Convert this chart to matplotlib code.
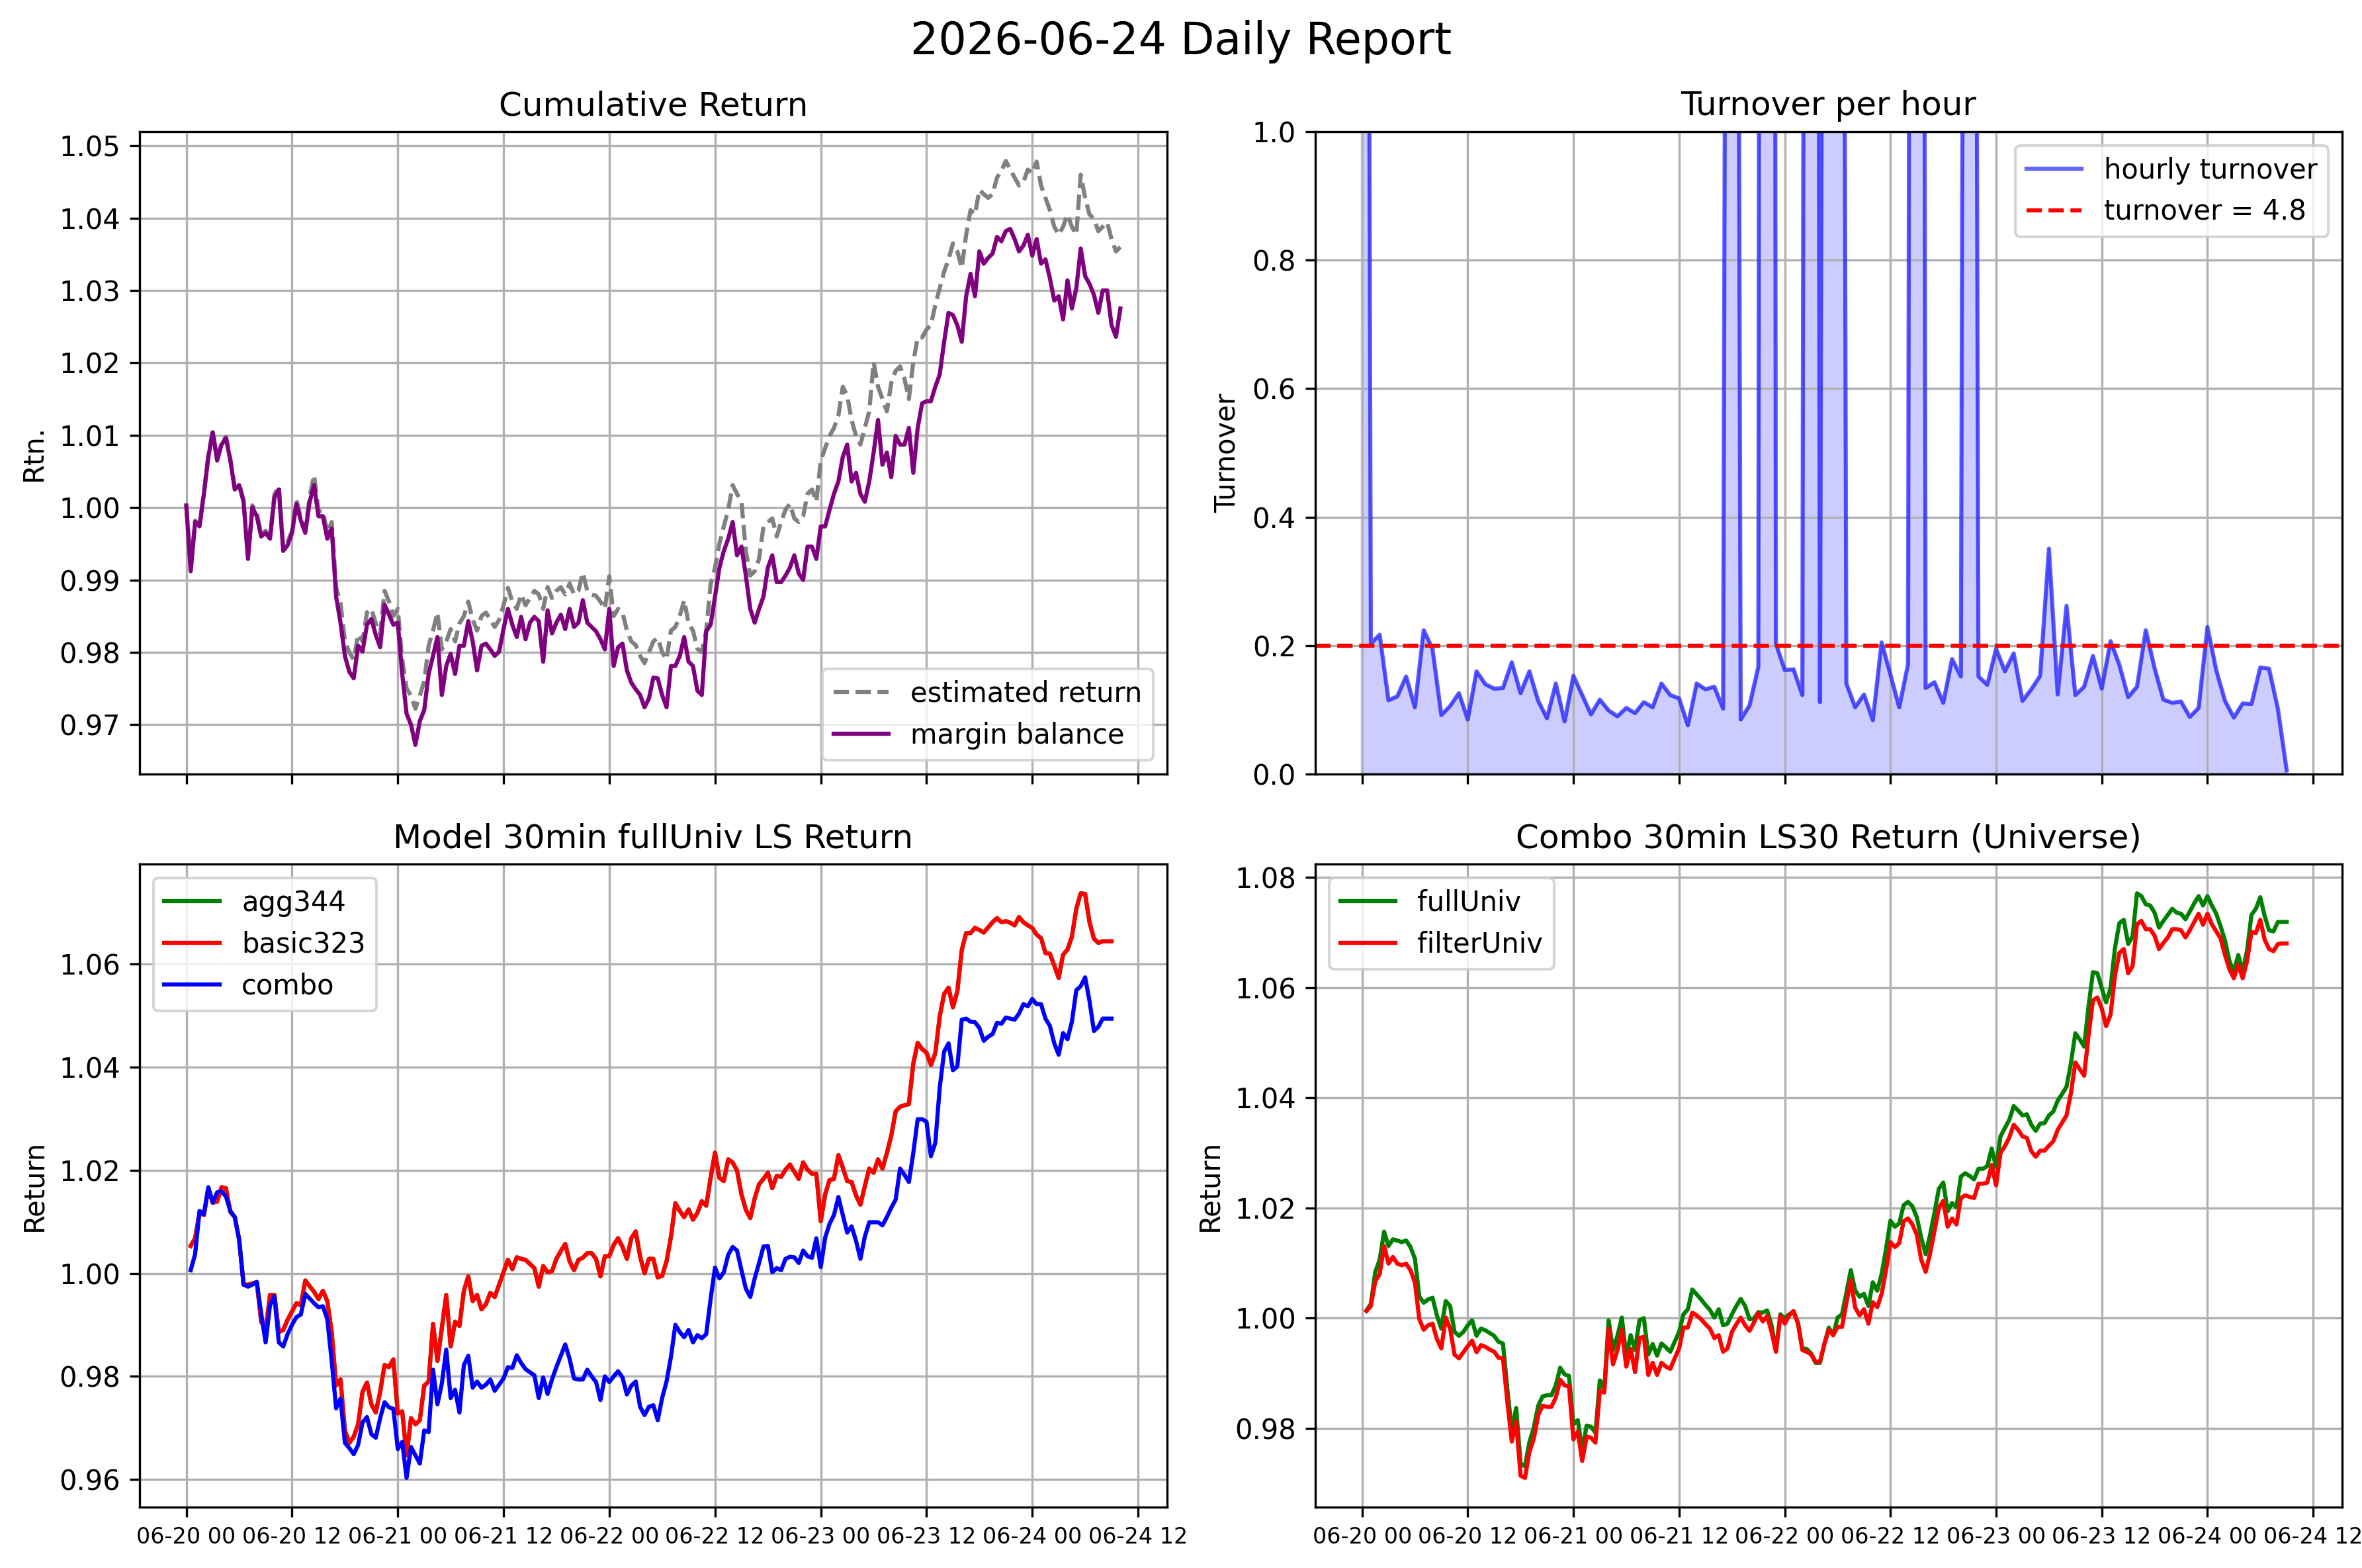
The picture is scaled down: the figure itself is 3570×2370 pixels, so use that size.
import numpy as np
import pandas as pd
import matplotlib
matplotlib.use("Agg")
import matplotlib.pyplot as plt
import matplotlib.dates as mdates

# ---------------- data ----------------
report_title = "2026-06-24 Daily Report"

# Cumulative return, 30-min samples from 06-20 00:00
estimated_return = [
    1.0003, 0.9915, 0.9982, 0.9976, 1.0021, 1.0072, 1.0106, 1.0067, 1.0089, 1.0098,
    1.0067, 1.0027, 1.0033, 1.0010, 0.9932, 1.0003, 0.9992, 0.9963, 0.9968, 0.9960,
    1.0018, 1.0030, 0.9945, 0.9952, 0.9968, 1.0010, 0.9986, 0.9970, 1.0015, 1.0045,
    0.9995, 0.9995, 0.9965, 0.9980, 0.9890, 0.9868, 0.9815, 0.9800, 0.9790, 0.9825,
    0.9815, 0.9855, 0.9860, 0.9840, 0.9825, 0.9885, 0.9870, 0.9850, 0.9860, 0.9790,
    0.9750, 0.9740, 0.9722, 0.9740, 0.9760, 0.9809, 0.9830, 0.9855, 0.9804, 0.9815,
    0.9832, 0.9815, 0.9840, 0.9850, 0.9870, 0.9845, 0.9830, 0.9850, 0.9855, 0.9845,
    0.9835, 0.9845, 0.9865, 0.9889, 0.9870, 0.9860, 0.9880, 0.9865, 0.9875, 0.9885,
    0.9880, 0.9860, 0.9890, 0.9875, 0.9885, 0.9890, 0.9880, 0.9895, 0.9880, 0.9885,
    0.9910, 0.9885, 0.9880, 0.9878, 0.9870, 0.9860, 0.9905, 0.9850, 0.9860, 0.9855,
    0.9830, 0.9815, 0.9810, 0.9795, 0.9785, 0.9800, 0.9815, 0.9820, 0.9800, 0.9790,
    0.9830, 0.9835, 0.9850, 0.9872, 0.9840, 0.9830, 0.9805, 0.9800, 0.9830, 0.9894,
    0.9917, 0.9950, 0.9974, 0.9997, 1.0031, 1.0019, 1.0008, 0.9940, 0.9906, 0.9912,
    0.9929, 0.9974, 0.9980, 0.9985, 0.9960, 0.9980, 0.9997, 1.0005, 0.9985, 0.9980,
    0.9988, 1.0019, 1.0025, 1.0008, 1.0065, 1.0082, 1.0099, 1.0110, 1.0127, 1.0167,
    1.0155, 1.0121, 1.0099, 1.0087, 1.0110, 1.0133, 1.0201, 1.0167, 1.0150, 1.0133,
    1.0172, 1.0189, 1.0195, 1.0178, 1.0150, 1.0201, 1.0235, 1.0235, 1.0246, 1.0252,
    1.0280, 1.0303, 1.0326, 1.0343, 1.0365, 1.0354, 1.0331, 1.0377, 1.0411, 1.0405,
    1.0439, 1.0433, 1.0428, 1.0433, 1.0456, 1.0465, 1.0479, 1.0467, 1.0456, 1.0445,
    1.0450, 1.0467, 1.0462, 1.0478, 1.0445, 1.0428, 1.0411, 1.0388, 1.0377, 1.0388,
    1.0405, 1.0388, 1.0377, 1.0460, 1.0428, 1.0405, 1.0399, 1.0382, 1.0388, 1.0394,
    1.0371, 1.0354, 1.0360,
]
margin_balance = [
    1.0003, 0.9912, 0.9980, 0.9974, 1.0019, 1.0070, 1.0104, 1.0065, 1.0087, 1.0096,
    1.0065, 1.0025, 1.0031, 1.0008, 0.9929, 1.0000, 0.9988, 0.9960, 0.9965, 0.9957,
    1.0014, 1.0025, 0.9940, 0.9948, 0.9965, 1.0005, 0.9982, 0.9965, 1.0008, 1.0031,
    0.9988, 0.9988, 0.9957, 0.9971, 0.9877, 0.9841, 0.9795, 0.9773, 0.9764, 0.9809,
    0.9801, 0.9838, 0.9846, 0.9824, 0.9807, 0.9866, 0.9852, 0.9838, 0.9841, 0.9770,
    0.9715, 0.9700, 0.9672, 0.9705, 0.9720, 0.9770, 0.9795, 0.9821, 0.9741, 0.9781,
    0.9798, 0.9770, 0.9809, 0.9809, 0.9843, 0.9815, 0.9775, 0.9809, 0.9812, 0.9804,
    0.9795, 0.9801, 0.9832, 0.9860, 0.9838, 0.9821, 0.9849, 0.9818, 0.9841, 0.9849,
    0.9843, 0.9787, 0.9858, 0.9826, 0.9841, 0.9852, 0.9832, 0.9860, 0.9835, 0.9841,
    0.9872, 0.9841, 0.9835, 0.9829, 0.9818, 0.9804, 0.9860, 0.9781, 0.9807, 0.9812,
    0.9775, 0.9758, 0.9749, 0.9741, 0.9724, 0.9736, 0.9765, 0.9764, 0.9741, 0.9724,
    0.9781, 0.9781, 0.9795, 0.9821, 0.9787, 0.9781, 0.9747, 0.9741, 0.9829, 0.9838,
    0.9877, 0.9917, 0.9940, 0.9957, 0.9980, 0.9934, 0.9946, 0.9906, 0.9860, 0.9841,
    0.9860, 0.9877, 0.9917, 0.9934, 0.9897, 0.9897, 0.9906, 0.9917, 0.9934, 0.9909,
    0.9900, 0.9946, 0.9946, 0.9929, 0.9974, 0.9974, 0.9997, 1.0019, 1.0036, 1.0070,
    1.0087, 1.0036, 1.0048, 1.0019, 1.0008, 1.0036, 1.0076, 1.0121, 1.0059, 1.0076,
    1.0042, 1.0099, 1.0087, 1.0087, 1.0110, 1.0048, 1.0110, 1.0144, 1.0147, 1.0147,
    1.0167, 1.0184, 1.0229, 1.0269, 1.0266, 1.0252, 1.0229, 1.0292, 1.0323, 1.0292,
    1.0354, 1.0337, 1.0345, 1.0351, 1.0374, 1.0368, 1.0382, 1.0385, 1.0371, 1.0354,
    1.0362, 1.0377, 1.0348, 1.0371, 1.0337, 1.0343, 1.0317, 1.0286, 1.0292, 1.0260,
    1.0314, 1.0275, 1.0303, 1.0358, 1.0320, 1.0309, 1.0294, 1.0269, 1.0300, 1.0300,
    1.0252, 1.0236, 1.0275,
]

# Hourly turnover from 06-20 00:00 (spikes run far above the 1.0 axis limit)
hourly_turnover = [
    5.0, 0.203, 0.217, 0.115, 0.121, 0.152, 0.104, 0.224, 0.195, 0.092,
    0.106, 0.126, 0.085, 0.160, 0.140, 0.133, 0.134, 0.174, 0.126, 0.160,
    0.114, 0.087, 0.141, 0.082, 0.153, 0.123, 0.093, 0.116, 0.099, 0.090,
    0.103, 0.095, 0.112, 0.104, 0.141, 0.123, 0.118, 0.076, 0.141, 0.132,
    0.136, 0.102, 5.0, 0.085, 0.107, 0.167, 12.0, 0.203, 0.162, 0.163,
    0.123, 8.0, 0.112, 5.0, 5.0, 0.141, 0.104, 0.124, 0.084, 0.205,
    0.155, 0.104, 0.171, 8.0, 0.134, 0.143, 0.111, 0.179, 0.152, 5.0,
    0.152, 0.139, 0.195, 0.160, 0.188, 0.114, 0.132, 0.153, 0.351, 0.124,
    0.262, 0.123, 0.136, 0.184, 0.133, 0.207, 0.170, 0.120, 0.136, 0.224,
    0.165, 0.116, 0.111, 0.113, 0.089, 0.103, 0.229, 0.162, 0.114, 0.088,
    0.110, 0.109, 0.166, 0.164, 0.102, 0.006,
]
turnover_threshold = 0.2
turnover_daily = 4.8

# Model 30min fullUniv LS return, 30-min samples from 06-20 00:30
basic323 = [
    1.0053, 1.0068, 1.0117, 1.0113, 1.0165, 1.0137, 1.0139, 1.0167, 1.0165, 1.0119,
    1.0109, 1.0065, 0.9978, 0.9978, 0.9980, 0.9983, 0.9906, 0.9890, 0.9958, 0.9958,
    0.9886, 0.9890, 0.9910, 0.9926, 0.9942, 0.9938, 0.9986, 0.9975, 0.9964, 0.9950,
    0.9966, 0.9946, 0.9886, 0.9782, 0.9794, 0.9695, 0.9671, 0.9683, 0.9707, 0.9770,
    0.9788, 0.9746, 0.9730, 0.9770, 0.9822, 0.9818, 0.9833, 0.9728, 0.9732, 0.9647,
    0.9719, 0.9707, 0.9715, 0.9782, 0.9790, 0.9902, 0.9830, 0.9894, 0.9958, 0.9858,
    0.9906, 0.9898, 0.9966, 0.9994, 0.9946, 0.9958, 0.9930, 0.9940, 0.9962, 0.9954,
    0.9978, 1.0002, 1.0026, 1.0008, 1.0031, 1.0028, 1.0026, 1.0018, 1.0010, 0.9974,
    1.0014, 1.0002, 1.0004, 1.0028, 1.0043, 1.0057, 1.0023, 1.0006, 1.0026, 1.0030,
    1.0039, 1.0039, 1.0028, 0.9994, 1.0033, 1.0033, 1.0055, 1.0068, 1.0051, 1.0028,
    1.0068, 1.0081, 1.0033, 1.0000, 1.0028,
    1.0028, 0.9992, 0.9995, 1.0023, 1.0071, 1.0136, 1.0121, 1.0109, 1.0124, 1.0104,
    1.0117, 1.0140, 1.0131, 1.0185, 1.0234, 1.0185, 1.0179, 1.0221, 1.0215, 1.0199,
    1.0153, 1.0123, 1.0107, 1.0145, 1.0173, 1.0183, 1.0195, 1.0165, 1.0189, 1.0187,
    1.0201, 1.0211, 1.0197, 1.0183, 1.0215, 1.0201, 1.0193, 1.0193, 1.0101, 1.0153,
    1.0181, 1.0183, 1.0229, 1.0205, 1.0179, 1.0177, 1.0151, 1.0133, 1.0169, 1.0203,
    1.0195, 1.0221, 1.0203, 1.0233, 1.0267, 1.0314, 1.0323, 1.0326, 1.0328, 1.0407,
    1.0447, 1.0435, 1.0428, 1.0404, 1.0427, 1.0498, 1.0542, 1.0554, 1.0516, 1.0547,
    1.0627, 1.0660, 1.0660, 1.0670, 1.0666, 1.0661, 1.0671, 1.0681, 1.0689, 1.0681,
    1.0683, 1.0680, 1.0675, 1.0691, 1.0681, 1.0675, 1.0670, 1.0657, 1.0650, 1.0621,
    1.0620, 1.0597, 1.0573, 1.0618, 1.0628, 1.0653, 1.0707, 1.0737, 1.0736, 1.0681,
    1.0649, 1.0641, 1.0644, 1.0644, 1.0644,
]
# agg344 coincides with basic323 (hidden underneath it in the chart)
agg344 = list(basic323)
combo = [
    1.0006, 1.0037, 1.0121, 1.0115, 1.0167, 1.0137, 1.0157, 1.0159, 1.0149, 1.0121,
    1.0109, 1.0065, 0.9978, 0.9974, 0.9978, 0.9983, 0.9922, 0.9866, 0.9938, 0.9956,
    0.9866, 0.9858, 0.9882, 0.9900, 0.9915, 0.9920, 0.9960, 0.9951, 0.9942, 0.9934,
    0.9936, 0.9911, 0.9830, 0.9738, 0.9757, 0.9671, 0.9661, 0.9649, 0.9667, 0.9711,
    0.9721, 0.9688, 0.9681, 0.9719, 0.9750, 0.9740, 0.9737, 0.9659, 0.9673, 0.9603,
    0.9663, 0.9647, 0.9631, 0.9695, 0.9692, 0.9813, 0.9746, 0.9786, 0.9852, 0.9758,
    0.9774, 0.9730, 0.9822, 0.9840, 0.9778, 0.9790, 0.9778, 0.9784, 0.9794, 0.9772,
    0.9784, 0.9796, 0.9818, 0.9816, 0.9841, 0.9826, 0.9814, 0.9808, 0.9802, 0.9758,
    0.9798, 0.9766, 0.9794, 0.9818, 0.9840, 0.9862, 0.9834, 0.9796, 0.9794, 0.9794,
    0.9813, 0.9800, 0.9789, 0.9754, 0.9800, 0.9789, 0.9800, 0.9810, 0.9798, 0.9765,
    0.9782, 0.9790, 0.9741, 0.9725, 0.9741,
    0.9744, 0.9715, 0.9758, 0.9790, 0.9838, 0.9900, 0.9886, 0.9876, 0.9890, 0.9866,
    0.9880, 0.9874, 0.9882, 0.9950, 1.0011, 0.9990, 1.0002, 1.0036, 1.0051, 1.0044,
    1.0006, 0.9970, 0.9954, 0.9990, 1.0020, 1.0052, 1.0053, 1.0002, 1.0010, 1.0006,
    1.0028, 1.0032, 1.0031, 1.0020, 1.0044, 1.0033, 1.0030, 1.0068, 1.0012, 1.0069,
    1.0096, 1.0113, 1.0148, 1.0113, 1.0079, 1.0091, 1.0063, 1.0028, 1.0071, 1.0099,
    1.0099, 1.0099, 1.0093, 1.0109, 1.0127, 1.0143, 1.0203, 1.0191, 1.0177, 1.0233,
    1.0299, 1.0299, 1.0294, 1.0227, 1.0253, 1.0360, 1.0430, 1.0446, 1.0394, 1.0401,
    1.0492, 1.0494, 1.0488, 1.0487, 1.0476, 1.0451, 1.0459, 1.0464, 1.0486, 1.0484,
    1.0496, 1.0494, 1.0492, 1.0504, 1.0522, 1.0518, 1.0532, 1.0522, 1.0522, 1.0494,
    1.0480, 1.0446, 1.0424, 1.0466, 1.0454, 1.0488, 1.0549, 1.0557, 1.0574, 1.0528,
    1.0470, 1.0478, 1.0494, 1.0494, 1.0494,
]

# Combo 30min LS30 return by universe, 30-min samples from 06-20 00:30
full_univ = [
    1.0014, 1.0026, 1.0084, 1.0106, 1.0157, 1.0131, 1.0143, 1.0141, 1.0138, 1.0141,
    1.0129, 1.0108, 1.0039, 1.0028, 1.0034, 1.0037, 1.0005, 0.9981, 1.0031, 1.0022,
    0.9975, 0.9968, 0.9975, 0.9987, 0.9996, 0.9968, 0.9981, 0.9978, 0.9973, 0.9968,
    0.9957, 0.9954, 0.9871, 0.9796, 0.9837, 0.9736, 0.9731, 0.9775, 0.9801, 0.9841,
    0.9858, 0.9860, 0.9860, 0.9878, 0.9910, 0.9898, 0.9895, 0.9807, 0.9815, 0.9759,
    0.9805, 0.9803, 0.9792, 0.9887, 0.9871, 0.9996, 0.9942, 0.9968, 1.0001, 0.9930,
    0.9969, 0.9942, 0.9996, 1.0000, 0.9934, 0.9953, 0.9932, 0.9954, 0.9947, 0.9939,
    0.9957, 0.9975, 1.0007, 1.0016, 1.0052, 1.0043, 1.0034, 1.0024, 1.0015, 1.0001,
    1.0016, 0.9987, 0.9990, 1.0007, 1.0022, 1.0035, 1.0022, 0.9998, 0.9999, 1.0011,
    1.0010, 1.0014, 0.9987, 0.9942, 1.0007, 0.9999, 1.0007, 1.0011, 0.9992, 0.9945,
    0.9944, 0.9936, 0.9919, 0.9919, 0.9953,
    0.9983, 0.9969, 1.0001, 1.0007, 1.0046, 1.0087, 1.0050, 1.0039, 1.0044, 1.0022,
    1.0065, 1.0050, 1.0080, 1.0125, 1.0177, 1.0166, 1.0172, 1.0205, 1.0211, 1.0203,
    1.0183, 1.0146, 1.0116, 1.0151, 1.0191, 1.0235, 1.0246, 1.0194, 1.0209, 1.0201,
    1.0257, 1.0263, 1.0258, 1.0252, 1.0271, 1.0271, 1.0276, 1.0308, 1.0274, 1.0330,
    1.0345, 1.0360, 1.0385, 1.0377, 1.0368, 1.0370, 1.0351, 1.0340, 1.0353, 1.0354,
    1.0368, 1.0375, 1.0395, 1.0407, 1.0420, 1.0463, 1.0517, 1.0506, 1.0493, 1.0566,
    1.0628, 1.0626, 1.0599, 1.0573, 1.0599, 1.0672, 1.0717, 1.0723, 1.0679, 1.0693,
    1.0771, 1.0766, 1.0751, 1.0749, 1.0736, 1.0709, 1.0721, 1.0732, 1.0743, 1.0736,
    1.0734, 1.0724, 1.0738, 1.0753, 1.0766, 1.0749, 1.0766, 1.0749, 1.0734, 1.0711,
    1.0685, 1.0648, 1.0629, 1.0659, 1.0629, 1.0667, 1.0732, 1.0743, 1.0764, 1.0730,
    1.0704, 1.0702, 1.0719, 1.0719, 1.0719,
]
filter_univ = [
    1.0013, 1.0022, 1.0067, 1.0080, 1.0131, 1.0099, 1.0111, 1.0099, 1.0096, 1.0099,
    1.0087, 1.0065, 0.9998, 0.9979, 0.9987, 0.9990, 0.9962, 0.9945, 1.0001, 0.9981,
    0.9934, 0.9927, 0.9938, 0.9949, 0.9959, 0.9938, 0.9951, 0.9948, 0.9943, 0.9939,
    0.9928, 0.9927, 0.9848, 0.9776, 0.9813, 0.9714, 0.9710, 0.9757, 0.9781, 0.9824,
    0.9841, 0.9839, 0.9839, 0.9856, 0.9888, 0.9878, 0.9876, 0.9780, 0.9794, 0.9741,
    0.9785, 0.9783, 0.9774, 0.9868, 0.9865, 0.9981, 0.9916, 0.9942, 0.9979, 0.9912,
    0.9944, 0.9902, 0.9964, 0.9966, 0.9897, 0.9919, 0.9897, 0.9919, 0.9912, 0.9908,
    0.9927, 0.9945, 0.9983, 0.9983, 1.0010, 1.0005, 0.9998, 0.9989, 0.9981, 0.9964,
    0.9969, 0.9939, 0.9945, 0.9975, 0.9989, 1.0001, 0.9987, 0.9977, 0.9992, 1.0009,
    0.9994, 1.0004, 0.9975, 0.9939, 1.0004, 0.9990, 1.0005, 1.0013, 0.9990, 0.9942,
    0.9939, 0.9934, 0.9921, 0.9921, 0.9953,
    0.9979, 0.9969, 0.9984, 0.9984, 1.0028, 1.0069, 1.0019, 1.0005, 1.0016, 0.9990,
    1.0029, 1.0020, 1.0044, 1.0087, 1.0138, 1.0129, 1.0136, 1.0176, 1.0181, 1.0170,
    1.0151, 1.0106, 1.0084, 1.0117, 1.0158, 1.0200, 1.0213, 1.0166, 1.0181, 1.0170,
    1.0218, 1.0223, 1.0220, 1.0218, 1.0244, 1.0244, 1.0246, 1.0278, 1.0241, 1.0300,
    1.0312, 1.0328, 1.0351, 1.0342, 1.0330, 1.0327, 1.0303, 1.0293, 1.0304, 1.0304,
    1.0313, 1.0321, 1.0342, 1.0355, 1.0368, 1.0409, 1.0464, 1.0452, 1.0440, 1.0513,
    1.0577, 1.0582, 1.0562, 1.0530, 1.0551, 1.0622, 1.0663, 1.0670, 1.0626, 1.0639,
    1.0715, 1.0721, 1.0706, 1.0706, 1.0694, 1.0670, 1.0681, 1.0691, 1.0706, 1.0706,
    1.0704, 1.0691, 1.0704, 1.0719, 1.0734, 1.0714, 1.0734, 1.0715, 1.0702, 1.0689,
    1.0659, 1.0633, 1.0617, 1.0642, 1.0617, 1.0648, 1.0701, 1.0699, 1.0723, 1.0687,
    1.0670, 1.0666, 1.0679, 1.0680, 1.0680,
]

cum_time = pd.date_range("2026-06-20 00:00", periods=len(margin_balance), freq="30min")
turn_time = pd.date_range("2026-06-20 00:00", periods=len(hourly_turnover), freq="h")
ls_time = pd.date_range("2026-06-20 00:30", periods=len(basic323), freq="30min")

# ---------------- figure ----------------
fig, axes = plt.subplots(2, 2, figsize=(11.9, 7.9), dpi=300, sharex=True)
ax1, ax2, ax3, ax4 = axes.flat

ax1.set_position([0.0591, 0.5063, 0.4350, 0.4097])
ax2.set_position([0.5569, 0.5063, 0.4347, 0.4097])
ax3.set_position([0.0591, 0.0388, 0.4350, 0.4101])
ax4.set_position([0.5569, 0.0388, 0.4347, 0.4101])

# Cumulative return
ax1.plot(cum_time, estimated_return, linestyle="--", color="gray", label="estimated return")
ax1.plot(cum_time, margin_balance, color="purple", label="margin balance")
ax1.set_title("Cumulative Return")
ax1.set_ylabel("Rtn.")
ax1.legend(loc="lower right")
ax1.grid(True)

# Turnover
ax2.plot(turn_time, hourly_turnover, color="blue", alpha=0.6, label="hourly turnover")
ax2.fill_between(turn_time, 0, hourly_turnover, color="blue", alpha=0.2)
ax2.axhline(turnover_threshold, color="red", linestyle="--",
            label=f"turnover = {turnover_daily}")
ax2.set_ylim(0, 1)
ax2.set_title("Turnover per hour")
ax2.set_ylabel("Turnover")
ax2.legend(loc="upper right")
ax2.grid(True)

# Model returns
ax3.plot(ls_time, agg344, color="green", label="agg344")
ax3.plot(ls_time, basic323, color="red", label="basic323")
ax3.plot(ls_time, combo, color="blue", label="combo")
ax3.set_title("Model 30min fullUniv LS Return")
ax3.set_ylabel("Return")
ax3.legend(loc="upper left")
ax3.grid(True)

# Universe returns
ax4.plot(ls_time, full_univ, color="green", label="fullUniv")
ax4.plot(ls_time, filter_univ, color="red", label="filterUniv")
ax4.set_title("Combo 30min LS30 Return (Universe)")
ax4.set_ylabel("Return")
ax4.legend(loc="upper left")
ax4.grid(True)

ax3.xaxis.set_major_locator(mdates.HourLocator(byhour=[0, 12]))
ax3.xaxis.set_major_formatter(mdates.DateFormatter("%m-%d %H"))
for ax in (ax3, ax4):
    ax.tick_params(axis="x", labelsize=8)

fig.suptitle(report_title, fontsize=16, y=0.9735, va="center")

fig.savefig("out.png", dpi=300)
